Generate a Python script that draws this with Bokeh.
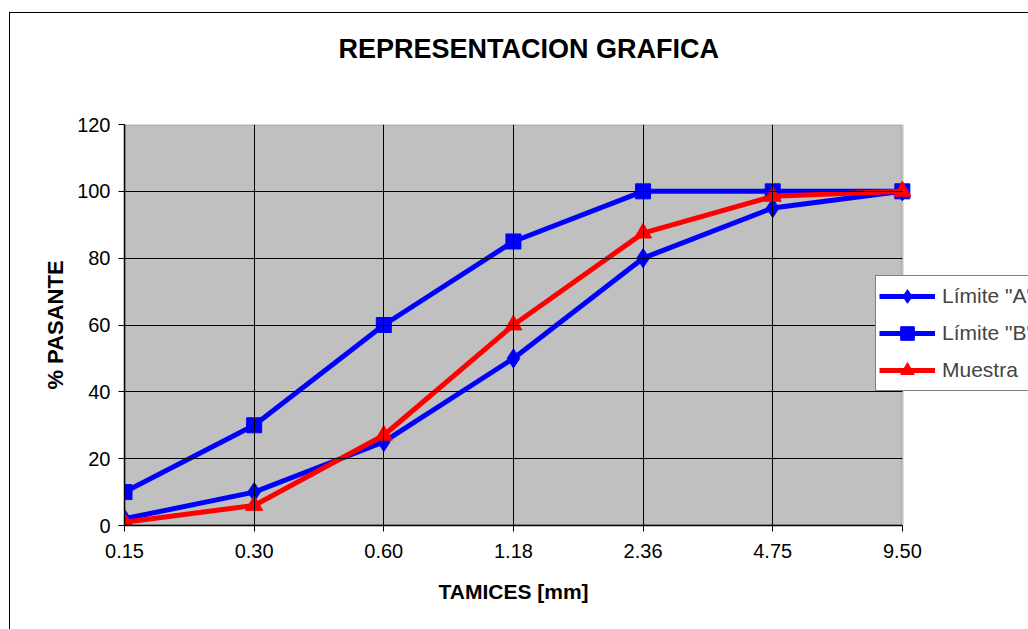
from bokeh.plotting import figure
from bokeh.embed import file_html
from bokeh.resources import INLINE
from bokeh.models import FixedTicker, Legend, LegendItem, BoxAnnotation, Range1d, Title

tamices = ["0.15", "0.30", "0.60", "1.18", "2.36", "4.75", "9.50"]
limite_a = [2, 10, 25, 50, 80, 95, 100]
limite_b = [10, 30, 60, 85, 100, 100, 100]
muestra = [1, 6, 27, 60, 87.5, 98.5, 100]
y_ticks = [0, 20, 40, 60, 80, 100, 120]

FONT = "Liberation Sans"
xs = list(range(len(tamices)))
n_last = len(tamices) - 1

W, H = 1019, 617
ML, MT, MB = 114, 111, 105
frame_w = (W - 1) - ML
x_end = n_last * frame_w / 777.0

p = figure(width=W, height=H, output_backend="svg", toolbar_location=None,
           x_range=Range1d(0, x_end), y_range=Range1d(0, 120),
           min_border_left=ML, min_border_right=0, min_border_top=MT, min_border_bottom=MB)
p.margin = (12, 0, 0, 9)
p.styles = {"border-left": "1px solid black", "border-top": "1px solid black", "box-sizing": "border-box"}

p.background_fill_color = "white"
p.border_fill_color = "white"
p.outline_line_color = None

plot_bg = BoxAnnotation(left=0, right=n_last, bottom=0, top=120, fill_color="#C0C0C0", fill_alpha=1,
                        line_color="#808080", line_width=3, level="underlay")
p.add_layout(plot_bg)

p.xaxis.ticker = FixedTicker(ticks=xs)
p.xaxis.major_label_overrides = {i: t for i, t in enumerate(tamices)}
p.xaxis.bounds = (0, n_last)
p.yaxis.ticker = FixedTicker(ticks=y_ticks)
p.xgrid.ticker = FixedTicker(ticks=xs[1:-1])
p.ygrid.ticker = FixedTicker(ticks=y_ticks[1:-1])
p.xgrid.cross_bounds = (0, 120)
p.ygrid.cross_bounds = (0, n_last)
p.grid.grid_line_color = "black"
p.grid.grid_line_width = 1
p.grid.level = "glyph"

for ax in (p.xaxis, p.yaxis):
    ax.axis_line_color = "black"
    ax.axis_line_width = 1.5
    ax.major_tick_line_color = "black"
    ax.major_tick_in = 0
    ax.major_tick_out = 6
    ax.minor_tick_line_color = None
    ax.major_label_text_font = FONT
    ax.major_label_text_font_size = "20px"
    ax.major_label_text_color = "black"
    ax.axis_label_text_font = FONT
    ax.axis_label_text_font_size = "22px"
    ax.axis_label_text_font_style = "bold"
    ax.axis_label_text_color = "black"

p.xaxis.major_label_standoff = 12
p.yaxis.major_label_standoff = 8
p.yaxis.axis_label = "% PASANTE"
p.yaxis.axis_label_standoff = 6

p.title.text = "REPRESENTACION GRAFICA"
p.title.text_font = FONT
p.title.text_font_size = "27px"
p.title.text_font_style = "bold"
p.title.text_color = "black"
p.title.align = "left"
p.title.offset = 214
p.title.standoff = 0

# spacer between the frame and the chart title
spacer = Title(text=" ", text_font_size="1px", standoff=58)
p.add_layout(spacer, "above")

xlabel = Title(text="TAMICES [mm]", text_font=FONT, text_font_size="21px", text_font_style="bold",
               text_color="black", align="left", offset=314, standoff=34)
p.add_layout(xlabel, "below")

la = p.line(xs, limite_a, line_color="#0000FF", line_width=5)
lam = p.scatter(xs, limite_a, marker="diamond", size=19, fill_color="#0000FF", line_color="#0000FF")
lb = p.line(xs, limite_b, line_color="#0000FF", line_width=5)
lbm = p.scatter(xs, limite_b, marker="square", size=15, fill_color="#0000FF", line_color="#0000FF")
mu = p.line(xs, muestra, line_color="#FF0000", line_width=5)
mum = p.scatter(xs, muestra, marker="triangle", size=17, fill_color="#FF0000", line_color="#FF0000")

legend = Legend(items=[
    LegendItem(label='Límite "A"', renderers=[la, lam]),
    LegendItem(label='Límite "B"', renderers=[lb, lbm]),
    LegendItem(label="Muestra", renderers=[mu, mum]),
], location=(751, 134))
legend.label_text_font = FONT
legend.label_text_font_size = "21px"
legend.glyph_width = 56
legend.glyph_height = 34
legend.spacing = 3
legend.padding = 3
legend.margin = 0
legend.label_standoff = 7
legend.border_line_color = "black"
legend.border_line_width = 1
legend.background_fill_color = "white"
legend.background_fill_alpha = 1
p.add_layout(legend, "center")

open("out.html", "w").write(file_html(p, INLINE))
